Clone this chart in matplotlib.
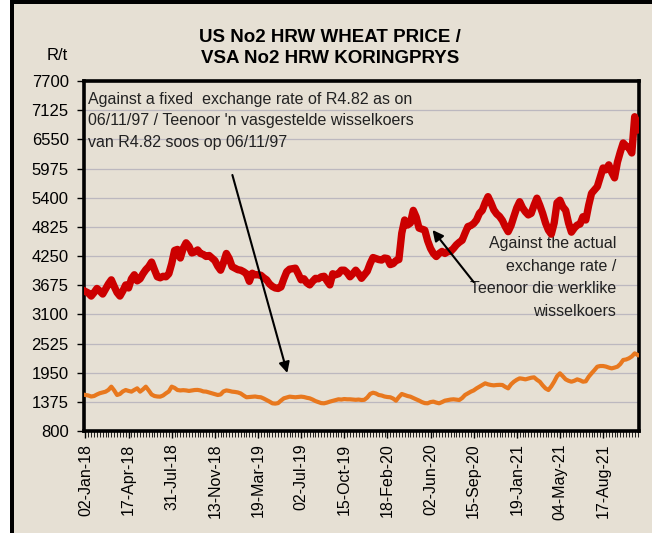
import matplotlib.pyplot as plt
from matplotlib.patches import Rectangle

plt.rcParams['font.family'] = ['Liberation Sans', 'DejaVu Sans']

# weekly prices, R/t
tick_labels = ['02-Jan-18', '17-Apr-18', '31-Jul-18', '13-Nov-18', '19-Mar-19',
               '02-Jul-19', '15-Oct-19', '18-Feb-20', '02-Jun-20', '15-Sep-20',
               '19-Jan-21', '04-May-21', '17-Aug-21']

actual_rate = [
    3550, 3520, 3460, 3530, 3610, 3560, 3500, 3600, 3700, 3780,
    3650, 3530, 3460, 3560, 3680, 3620, 3800, 3880, 3760, 3800,
    3900, 3980, 4040, 4130, 3980, 3840, 3820, 3850, 3840, 3900,
    4100, 4360, 4380, 4210, 4400, 4510, 4440, 4310, 4330, 4370,
    4300, 4280, 4240, 4260, 4210, 4160, 4050, 3970, 4120, 4300,
    4200, 4040, 4010, 3980, 3970, 3940, 3900, 3750, 3910, 3880,
    3880, 3870, 3820, 3780, 3700, 3650, 3620, 3610, 3640, 3800,
    3940, 3990, 4000, 4010, 3900, 3780, 3800, 3720, 3680, 3750,
    3810, 3800, 3840, 3850, 3760, 3680, 3900, 3880, 3900, 3970,
    3970, 3920, 3840, 3900, 3970, 3900, 3810, 3880, 3950, 4100,
    4220, 4200, 4180, 4170, 4210, 4200, 4080, 4100, 4160, 4180,
    4700, 4960, 4860, 4900, 5150, 5020, 4800, 4780, 4760, 4550,
    4400, 4300, 4240, 4300, 4340, 4300, 4340, 4340, 4400, 4470,
    4520, 4560, 4700, 4830, 4850, 4890, 4960, 5090, 5150, 5300,
    5420, 5300, 5160, 5080, 5030, 4950, 4830, 4730, 4850, 5030,
    5200, 5320, 5200, 5120, 5060, 5090, 5250, 5390, 5250, 5090,
    4900, 4760, 4680, 4900, 5300, 5350, 5220, 5150, 4900, 4720,
    4800, 4860, 4880, 5025, 4960, 5250, 5486, 5550, 5617, 5800,
    5985, 5950, 6047, 5900, 5790, 6100, 6300, 6478, 6420, 6380,
    6281, 6996, 6734,
]

fixed_rate = [
    1510, 1500, 1480, 1490, 1520, 1545, 1560, 1575, 1610, 1674,
    1600, 1510, 1530, 1580, 1608, 1590, 1576, 1610, 1641, 1576,
    1620, 1674, 1600, 1520, 1490, 1480, 1477, 1500, 1543, 1580,
    1674, 1650, 1608, 1600, 1605, 1600, 1590, 1600, 1608, 1610,
    1600, 1580, 1576, 1560, 1543, 1530, 1510, 1520, 1580, 1600,
    1590, 1576, 1570, 1560, 1540, 1500, 1465, 1470, 1477, 1480,
    1470, 1465, 1440, 1411, 1380, 1346, 1340, 1350, 1400, 1444,
    1460, 1477, 1470, 1465, 1470, 1477, 1470, 1455, 1444, 1420,
    1390, 1370, 1350, 1346, 1360, 1379, 1395, 1410, 1425, 1420,
    1430, 1425, 1425, 1420, 1415, 1420, 1411, 1415, 1460, 1530,
    1555, 1540, 1510, 1500, 1480, 1470, 1465, 1440, 1398, 1470,
    1530, 1510, 1490, 1477, 1450, 1425, 1400, 1370, 1350, 1346,
    1370, 1379, 1360, 1346, 1370, 1398, 1410, 1420, 1425, 1418,
    1411, 1450, 1510, 1543, 1575, 1600, 1640, 1674, 1710, 1740,
    1720, 1707, 1700, 1707, 1710, 1707, 1670, 1641, 1720, 1772,
    1810, 1838, 1830, 1818, 1835, 1850, 1858, 1810, 1772, 1700,
    1640, 1608, 1680, 1772, 1880, 1937, 1880, 1818, 1790, 1772,
    1790, 1818, 1800, 1772, 1780, 1870, 1937, 2000, 2068, 2081,
    2081, 2070, 2050, 2035, 2050, 2068, 2120, 2200, 2210, 2233,
    2270, 2331, 2300,
]

beige = '#e6e0d4'
W, H = 653, 533

fig = plt.figure(figsize=(W / 100, H / 100), dpi=100)
fig.patch.set_facecolor('white')

# chart background and its black frame (top and left)
fig.add_artist(Rectangle((10 / W, 0), 642 / W, 1, transform=fig.transFigure,
                         facecolor=beige, edgecolor='none', zorder=0))
fig.add_artist(Rectangle((10 / W, 0), 4 / W, 1, transform=fig.transFigure,
                         facecolor='black', edgecolor='none', zorder=1))
fig.add_artist(Rectangle((10 / W, 1 - 4 / H), 642 / W, 4 / H, transform=fig.transFigure,
                         facecolor='black', edgecolor='none', zorder=1))

ax = fig.add_axes([84 / W, 102 / H, 555 / W, 350 / H])
ax.set_facecolor(beige)

n = len(actual_rate)
x = list(range(n))
ax.plot(x, fixed_rate, color='#e8781e', lw=3, solid_joinstyle='round', zorder=3)
ax.plot(x, actual_rate, color='#cc0000', lw=5.3, solid_joinstyle='round', zorder=4)

ax.set_xlim(-0.5, n - 0.5)
ax.set_ylim(800, 7700)
ax.set_yticks(range(800, 7701, 575))
ax.yaxis.grid(True, color='#bcb8bf', lw=0.9)
ax.set_axisbelow(True)

ax.set_xticks(range(0, 15 * len(tick_labels), 15))
ax.set_xticklabels(tick_labels, rotation=90)
ax.set_xticks(x, minor=True)
ax.tick_params(axis='x', which='major', length=5, width=1, pad=4, labelsize=11.5)
ax.tick_params(axis='x', which='minor', length=4, width=0.6)
ax.tick_params(axis='y', length=5, width=1, pad=6, labelsize=12)

for s in ax.spines.values():
    s.set_linewidth(2.6)
    s.set_color('black')

fig.text(330 / W, 1 - 48 / H,
         'US No2 HRW WHEAT PRICE /\nVSA No2 HRW KORINGPRYS',
         ha='center', va='center', fontsize=13.5, fontweight='bold',
         linespacing=1.35)
fig.text(57 / W, 1 - 55 / H, 'R/t', ha='center', va='center', fontsize=12)

ax.text(0.008, 0.97,
        "Against a fixed  exchange rate of R4.82 as on\n"
        "06/11/97 / Teenoor 'n vasgestelde wisselkoers\n"
        "van R4.82 soos op 06/11/97",
        transform=ax.transAxes, ha='left', va='top', fontsize=11.5,
        linespacing=1.55, color='#222222')
ax.text(0.9586, 0.558,
        'Against the actual\nexchange rate /\nTeenoor die werklike\nwisselkoers',
        transform=ax.transAxes, ha='right', va='top', fontsize=11.5,
        linespacing=1.65, multialignment='right', color='#222222', zorder=2)

arrow = dict(arrowstyle='-|>', color='black', lw=1.5, mutation_scale=16,
             shrinkA=0, shrinkB=0)
ax.annotate('', xy=(70.2, 1943), xytext=(51.1, 5847), arrowprops=arrow, zorder=5)
ax.annotate('', xy=(120.7, 4763), xytext=(135.0, 3737), arrowprops=arrow, zorder=5)

fig.savefig('out.png', dpi=100, facecolor=fig.get_facecolor())
